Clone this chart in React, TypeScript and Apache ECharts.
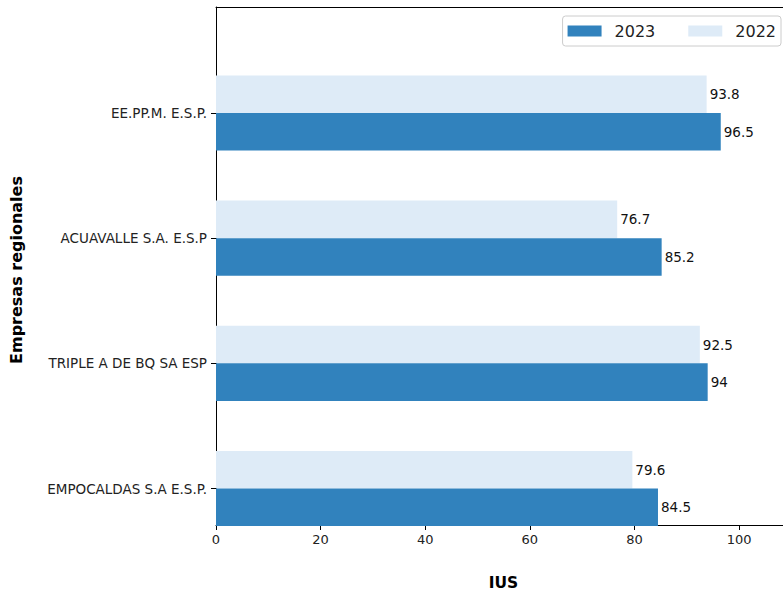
import React, { useEffect, useRef } from "react";
import * as echarts from "echarts";

const categories = [
  "EMPOCALDAS S.A E.S.P.",
  "TRIPLE A DE BQ SA ESP",
  "ACUAVALLE S.A. E.S.P",
  "EE.PP.M. E.S.P.",
];
const values2023 = [84.5, 94, 85.2, 96.5];
const values2022 = [79.6, 92.5, 76.7, 93.8];
const xTicks = { min: 0, max: 108.4, interval: 20 };

const FONT = "DejaVu Sans";

export default function App() {
  const ref = useRef<HTMLDivElement>(null);
  useEffect(() => {
    if (!ref.current) return;
    const chart = echarts.init(ref.current, undefined, { renderer: "svg" });
    const labelStyle = {
      show: true,
      position: "right" as const,
      distance: 3,
      fontFamily: FONT,
      fontSize: 13.5,
      color: "#111",
    };
    chart.setOption({
      animation: false,
      backgroundColor: "#ffffff",
      textStyle: { fontFamily: FONT },
      legend: {
        data: ["2023", "2022"],
        right: 2,
        top: 16,
        itemWidth: 34,
        itemHeight: 11,
        itemGap: 33,
        icon: "rect",
        padding: [7, 5, 7, 5],
        borderColor: "#cccccc",
        borderWidth: 1,
        borderRadius: 3,
        textStyle: { fontFamily: FONT, fontSize: 16, color: "#222", padding: [0, 0, 0, 8] },
      },
      grid: [
        { left: 216, top: 7, width: 567, height: 518, outerBoundsMode: "none", containLabel: false },
        { left: 216, top: 50.4, width: 567, height: 500.7, outerBoundsMode: "none", containLabel: false },
      ],
      xAxis: [
        {
          type: "value",
          gridIndex: 0,
          position: "bottom",
          min: xTicks.min,
          max: xTicks.max,
          interval: xTicks.interval,
          axisLine: { show: true, lineStyle: { color: "#000", width: 1 } },
          axisTick: { show: true, length: 5, lineStyle: { color: "#000" } },
          axisLabel: { fontFamily: FONT, fontSize: 13, color: "#222", margin: 8, showMaxLabel: false },
          splitLine: { show: false },
          name: "IUS",
          nameLocation: "middle",
          nameGap: 50,
          nameTextStyle: { fontFamily: FONT, fontSize: 15.5, fontWeight: "bold", color: "#000", padding: [0, 0, 0, 8] },
        },
        {
          type: "value",
          gridIndex: 0,
          position: "top",
          min: 0,
          max: 1,
          axisLine: { show: true, lineStyle: { color: "#000", width: 1 } },
          axisTick: { show: false },
          axisLabel: { show: false },
          splitLine: { show: false },
        },
        {
          type: "value",
          gridIndex: 1,
          min: xTicks.min,
          max: xTicks.max,
          show: false,
        },
      ],
      yAxis: [
        {
          type: "value",
          gridIndex: 0,
          min: 0,
          max: 1,
          axisLine: { show: true, lineStyle: { color: "#000", width: 1 } },
          axisTick: { show: false },
          axisLabel: { show: false },
          splitLine: { show: false },
          name: "Empresas regionales",
          nameLocation: "middle",
          nameGap: 192,
          nameTextStyle: { fontFamily: FONT, fontSize: 16, fontWeight: "bold", color: "#000", padding: [0, 8, 0, 0] },
        },
        {
          type: "category",
          gridIndex: 1,
          data: categories,
          axisLine: { show: false },
          axisTick: { show: true, alignWithLabel: true, length: 5, lineStyle: { color: "#000" } },
          axisLabel: { fontFamily: FONT, fontSize: 13.5, color: "#222", margin: 9 },
          splitLine: { show: false },
        },
      ],
      series: [
        {
          name: "2022",
          type: "bar",
          xAxisIndex: 2,
          yAxisIndex: 1,
          data: values2022,
          barWidth: 37.6,
          barGap: "0%",
          itemStyle: { color: "#deebf7" },
          label: labelStyle,
        },
        {
          name: "2023",
          type: "bar",
          xAxisIndex: 2,
          yAxisIndex: 1,
          data: values2023,
          barWidth: 37.6,
          barGap: "0%",
          itemStyle: { color: "#3182bd" },
          label: labelStyle,
        },
      ],
    });
    return () => chart.dispose();
  }, []);
  return (
    <div
      ref={ref}
      style={{ position: "fixed", left: 0, top: 0, width: 783, height: 591, background: "#fff" }}
    />
  );
}
